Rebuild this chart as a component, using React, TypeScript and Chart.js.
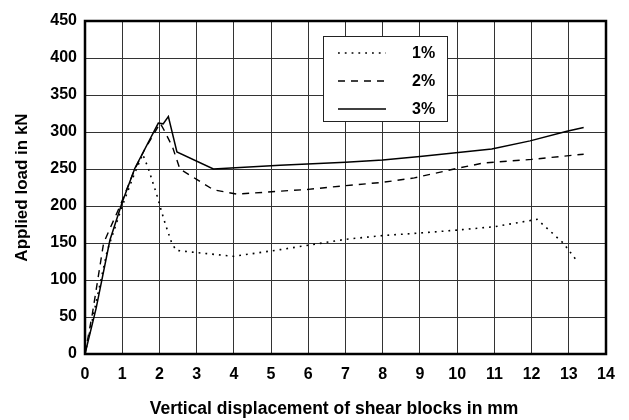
import React, { useEffect, useRef } from "react";
import { Chart, registerables } from "chart.js";

Chart.register(...registerables);

// 1% series
const xs1 = [0, 0.3, 0.6, 1.0, 1.3, 1.55, 1.7, 1.93, 2.02, 2.15, 2.33, 2.45, 3.0, 4.0, 5.24, 6.0, 7.0, 8.0, 8.85, 9.9, 11.0, 12.15, 12.85, 13.2];
const ys1 = [0, 70, 140, 200, 240, 270, 251, 215, 199, 177, 150, 140, 137, 132, 141, 147, 155, 160, 163, 167, 172, 182, 150, 127];

// 2% series
const xs2 = [0, 0.2, 0.5, 0.94, 1.34, 1.6, 2.02, 2.12, 2.35, 2.55, 3.0, 3.45, 4.08, 5.24, 6.0, 7.0, 8.0, 8.85, 9.92, 10.7, 12.0, 13.4];
const ys2 = [0, 55, 150, 200, 250, 276, 312, 303, 280, 250, 236, 222, 216, 220, 222.5, 227.5, 232, 238, 250, 258, 263, 270];

// 3% series
const xs3 = [0, 0.3, 0.67, 1.0, 1.34, 1.97, 2.1, 2.24, 2.47, 3.45, 5.24, 7.0, 8.0, 9.0, 10.93, 11.96, 12.95, 13.4];
const ys3 = [0, 62, 154, 205, 251, 312, 311, 321, 273, 250, 255, 259, 262, 267, 277, 288, 301, 306];

const seriesLabels = ["1%", "2%", "3%"];
const xTicks = [0, 1, 2, 3, 4, 5, 6, 7, 8, 9, 10, 11, 12, 13, 14];
const yTicks = [0, 50, 100, 150, 200, 250, 300, 350, 400, 450];

const xTitle = "Vertical displacement of shear blocks in mm";
const yTitle = "Applied load in kN";

const FONT = "'Liberation Sans', Arial, Helvetica, sans-serif";

const toPoints = (xs: number[], ys: number[]) => xs.map((x, i) => ({ x, y: ys[i] }));

const frameAndLegend = {
  id: "frameAndLegend",
  afterDatasetsDraw(chart: any) {
    const { ctx, chartArea } = chart;
    ctx.save();
    // frame
    ctx.strokeStyle = "#000";
    ctx.lineWidth = 2.5;
    ctx.setLineDash([]);
    ctx.strokeRect(chartArea.left, chartArea.top, chartArea.right - chartArea.left, chartArea.bottom - chartArea.top);

    // legend box
    const bx = 323, by = 36, bw = 124, bh = 85;
    ctx.fillStyle = "#fff";
    ctx.fillRect(bx, by, bw, bh);
    ctx.lineWidth = 1;
    ctx.strokeStyle = "#222";
    ctx.strokeRect(bx + 0.5, by + 0.5, bw, bh);

    const rowY = [53, 81, 109];
    chart.data.datasets.forEach((ds: any, i: number) => {
      const y = rowY[i];
      ctx.beginPath();
      ctx.strokeStyle = "#000";
      ctx.lineWidth = ds.borderWidth;
      ctx.setLineDash(ds.borderDash || []);
      ctx.moveTo(338, y);
      ctx.lineTo(386, y);
      ctx.stroke();
      ctx.setLineDash([]);
      ctx.fillStyle = "#000";
      ctx.font = `bold 16px ${FONT}`;
      ctx.textAlign = "left";
      ctx.textBaseline = "middle";
      ctx.fillText(ds.label, 412, y + 1);
    });

    // x-axis title
    ctx.fillStyle = "#000";
    ctx.font = `bold 17.5px ${FONT}`;
    ctx.textAlign = "center";
    ctx.textBaseline = "middle";
    ctx.fillText(xTitle, 334, 409);
    ctx.restore();
  },
};

export default function App() {
  const ref = useRef<HTMLCanvasElement | null>(null);

  useEffect(() => {
    if (!ref.current) return;
    const chart = new Chart(ref.current, {
      type: "line",
      data: {
        datasets: [
          {
            label: seriesLabels[0],
            data: toPoints(xs1, ys1),
            borderColor: "#000",
            borderWidth: 1.6,
            borderDash: [1.8, 5],
            pointRadius: 0,
            tension: 0,
            fill: false,
          },
          {
            label: seriesLabels[1],
            data: toPoints(xs2, ys2),
            borderColor: "#000",
            borderWidth: 1.4,
            borderDash: [7, 6],
            pointRadius: 0,
            tension: 0,
            fill: false,
          },
          {
            label: seriesLabels[2],
            data: toPoints(xs3, ys3),
            borderColor: "#000",
            borderWidth: 1.5,
            pointRadius: 0,
            tension: 0,
            fill: false,
          },
        ],
      },
      options: {
        animation: false,
        responsive: false,
        maintainAspectRatio: false,
        layout: { padding: { left: 0, top: 21, right: 23, bottom: 0 } },
        plugins: {
          legend: { display: false },
          tooltip: { enabled: false },
        },
        scales: {
          x: {
            type: "linear",
            min: 0,
            max: 14,
            afterFit: (s: any) => {
              s.height = 66;
            },
            afterBuildTicks: (s: any) => {
              s.ticks = xTicks.map((v) => ({ value: v }));
            },
            ticks: {
              color: "#000",
              padding: 11,
              font: { family: FONT, size: 16, weight: "bold" },
              maxRotation: 0,
              autoSkip: false,
            },
            grid: { color: "#333", lineWidth: 1, drawTicks: false },
            border: { display: false },
            title: { display: false },
          },
          y: {
            type: "linear",
            min: 0,
            max: 450,
            afterFit: (s: any) => {
              s.width = 85;
            },
            afterBuildTicks: (s: any) => {
              s.ticks = yTicks.map((v) => ({ value: v }));
            },
            ticks: {
              color: "#000",
              padding: 8,
              font: { family: FONT, size: 16, weight: "bold" },
              autoSkip: false,
            },
            grid: { color: "#333", lineWidth: 1, drawTicks: false },
            border: { display: false },
            title: {
              display: true,
              text: yTitle,
              color: "#000",
              font: { family: FONT, size: 17, weight: "bold" },
              padding: { top: 12, bottom: 0 },
            },
          },
        },
      },
      plugins: [frameAndLegend],
    });
    return () => chart.destroy();
  }, []);

  return (
    <div style={{ position: "fixed", left: 0, top: 0, width: 629, height: 420, background: "#fff" }}>
      <canvas ref={ref} width={629} height={420} />
    </div>
  );
}
